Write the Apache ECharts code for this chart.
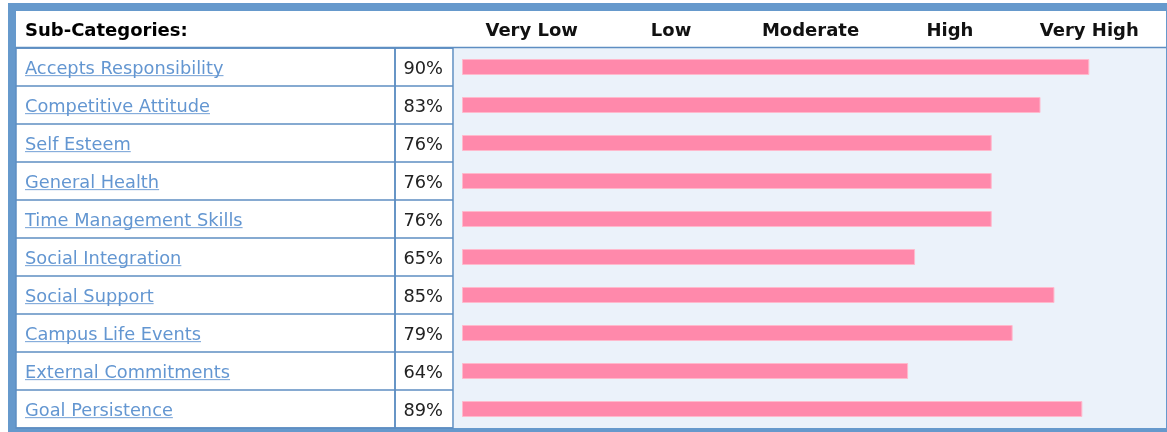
<!DOCTYPE html>
<html>
<head>
<meta charset="utf-8">
<style>
  html, body { margin: 0; padding: 0; background: #fff; }
  #chart { width: 1167px; height: 432px; }
</style>
<script src="https://cdn.jsdelivr.net/npm/echarts@6/dist/echarts.min.js"></script>
</head>
<body>
<div id="chart"></div>
<script>
// data
const subCategories = [
  'Accepts Responsibility',
  'Competitive Attitude',
  'Self Esteem',
  'General Health',
  'Time Management Skills',
  'Social Integration',
  'Social Support',
  'Campus Life Events',
  'External Commitments',
  'Goal Persistence'
]
const scores = [90, 83, 76, 76, 76, 65, 85, 79, 64, 89]
const levels = ['Very Low', 'Low', 'Moderate', 'High', 'Very High']

const FONT = 'DejaVu Sans'
const LINK = '#6396D1'
const FRAME = '#6699CC'
const LINE = '#5E8EC2'

// underline trick: a tiny canvas stretched behind the link text
const ul = document.createElement('canvas')
ul.width = 2
ul.height = 24
const ctx = ul.getContext('2d')
ctx.fillStyle = LINK
ctx.fillRect(0, 21, 2, 1)

const chart = echarts.init(document.getElementById('chart'))
chart.setOption({
  animation: false,
  title: {
    text: 'Sub-Categories:',
    left: 25,
    top: 22,
    padding: 0,
    textStyle: { fontFamily: FONT, fontSize: 18, fontWeight: 'bold', color: '#000' }
  },
  graphic: [
    { type: 'rect', z: -20, shape: { x: 8, y: 3, width: 1159, height: 429 }, style: { fill: FRAME } },
    { type: 'rect', z: -19, shape: { x: 16, y: 11, width: 1150, height: 417 }, style: { fill: '#fff' } },
    { type: 'rect', z: -18, shape: { x: 454, y: 48, width: 712, height: 380 }, style: { fill: '#EBF2FA' } },
    { type: 'line', z: -17, shape: { x1: 16, y1: 47.5, x2: 1166, y2: 47.5 }, style: { stroke: LINE, lineWidth: 1.5 } }
  ],
  grid: [
    // names column
    { left: 16, width: 379, top: 48, bottom: 4, show: true, borderColor: LINE, borderWidth: 1.5, backgroundColor: 'transparent' },
    // percent column
    { left: 395, width: 58, top: 48, bottom: 4, show: true, borderColor: LINE, borderWidth: 1.5, backgroundColor: 'transparent' },
    // bars
    { left: 462, right: 8, top: 48, bottom: 4 }
  ],
  xAxis: [
    { gridIndex: 0, type: 'value', show: false },
    { gridIndex: 1, type: 'value', show: false },
    { gridIndex: 2, type: 'value', min: 0, max: 100, show: false },
    {
      gridIndex: 2,
      type: 'category',
      position: 'top',
      data: levels,
      axisLine: { show: false },
      axisTick: { show: false },
      axisLabel: { margin: 8, fontFamily: FONT, fontSize: 18, fontWeight: 'bold', color: '#111' }
    }
  ],
  yAxis: [
    {
      gridIndex: 0,
      type: 'category',
      inverse: true,
      data: subCategories,
      axisLine: { show: false },
      axisTick: { show: false },
      splitLine: { show: true, interval: 0, lineStyle: { color: LINE, width: 1.5 } },
      axisLabel: {
        inside: true,
        margin: 9,
        interval: 0,
        formatter: (v) => '{u|' + v + '}',
        rich: {
          u: {
            fontFamily: FONT,
            fontSize: 17.8,
            lineHeight: 24,
            padding: [4, 0, 0, 0],
            color: LINK,
            backgroundColor: { image: ul }
          }
        }
      }
    },
    {
      gridIndex: 1,
      type: 'category',
      inverse: true,
      position: 'right',
      data: scores.map(v => v + '%'),
      axisLine: { show: false },
      axisTick: { show: false },
      splitLine: { show: true, interval: 0, lineStyle: { color: LINE, width: 1.5 } },
      axisLabel: {
        inside: true,
        margin: 10,
        interval: 0,
        formatter: (v) => '{p|' + v + '}',
        rich: {
          p: { fontFamily: FONT, fontSize: 17.8, lineHeight: 24, padding: [4, 0, 0, 0], color: '#222' }
        }
      }
    },
    { gridIndex: 2, type: 'category', inverse: true, data: subCategories, show: false }
  ],
  series: [
    {
      type: 'bar',
      xAxisIndex: 2,
      yAxisIndex: 2,
      data: scores,
      barWidth: 16,
      barCategoryGap: 0,
      itemStyle: { color: '#FF89AB', borderColor: '#FFB9CC', borderWidth: 1 }
    }
  ]
})
</script>
</body>
</html>
